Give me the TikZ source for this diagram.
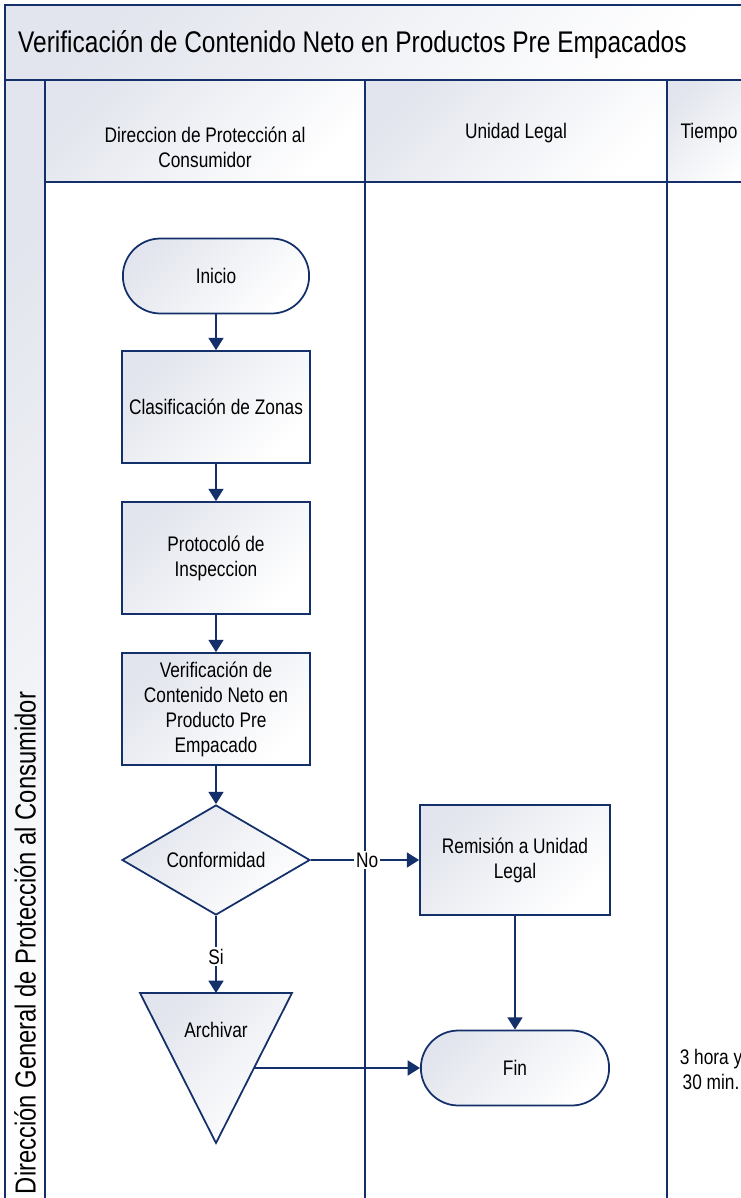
\documentclass[tikz,border=0pt]{standalone}
\usepackage{fontspec}
\setmainfont{Liberation Sans}[FakeStretch=0.82]
\usepackage{tikz}
\usetikzlibrary{shapes.geometric, shapes.misc, arrows.meta, positioning}

\definecolor{lanenavy}{HTML}{14306B}
\definecolor{shadegray}{HTML}{E2E5ED}

\tikzset{
    flowfill/.style={shading=axis, top color=shadegray, bottom color=white, shading angle=45},
    laneline/.style={draw=lanenavy, line width=1.1pt},
    procbox/.style={draw=lanenavy, line width=1pt, flowfill, minimum width=3.76cm, minimum height=2.24cm, align=center, inner sep=2pt},
    termbox/.style={rounded rectangle, draw=lanenavy, line width=1pt, flowfill, minimum width=3.96cm, minimum height=1.5cm},
    decbox/.style={diamond, aspect=1.7, draw=lanenavy, line width=1pt, flowfill, minimum width=3.76cm, minimum height=2.2cm, inner sep=0pt},
    flowline/.style={draw=lanenavy, line width=1.1pt, -{Triangle[length=7pt, width=8.5pt]}},
    lbl/.style={fill=white, inner sep=1pt}
}

\begin{document}
\begin{tikzpicture}[x=0.02cm, y=-0.02cm, font=\fontsize{12}{14.2}\selectfont]
            \useasboundingbox (0,0) rectangle (741,1198);
            \clip (0,0) rectangle (741,1198);

            % Pool frame and bands
            \fill[flowfill] (5,5) rectangle (760,80);
            \fill[flowfill] (5,80) rectangle (45,1220);
            \fill[flowfill] (45,80) rectangle (365,182);
            \fill[flowfill] (365,80) rectangle (667,182);
            \fill[flowfill] (667,80) rectangle (760,182);
            \draw[laneline] (5,5) rectangle (760,1220);
            \draw[laneline] (5,80) -- (760,80);
            \draw[laneline] (45,182) -- (760,182);
            \draw[laneline] (45,80) -- (45,1220);
            \draw[laneline] (365,80) -- (365,1220);
            \draw[laneline] (667,80) -- (667,1220);

            % Titles
            \node[anchor=west, font=\fontsize{17}{20}\selectfont] (title) at (12,45) {Verificación de Contenido Neto en Productos Pre Empacados};
            \node[rotate=90, font=\fontsize{16.5}{20}\selectfont] (pool) at (25,943) {Dirección General de Protección al Consumidor};
            \node[align=center] (lane1) at (205,147) {Direccion de Protección al\\Consumidor};
            \node (lane2) at (516,133) {Unidad Legal};
            \node (lane3) at (709,133) {Tiempo};

            % Steps
            \node[termbox] (inicio) at (216,276) {Inicio};
            \node[procbox] (zonas) at (216,407) {Clasificación de Zonas};
            \node[procbox] (protocolo) at (216,558) {Protocoló de\\Inspeccion};
            \node[procbox] (verif) at (216,709) {Verificación de\\Contenido Neto en\\Producto Pre\\Empacado};
            \node[decbox] (conf) at (216,860) {Conformidad};
            \node[procbox, minimum width=3.8cm, minimum height=2.2cm] (remision) at (515,860) {Remisión a Unidad\\Legal};
            \node[termbox, minimum width=4cm] (fin) at (515,1068) {Fin};

            % Archive triangle
            \draw[draw=lanenavy, line width=1pt, flowfill] (140,993) -- (292,993) -- (216,1143) -- cycle;
            \coordinate (archtop) at (216,993);
            \coordinate (archout) at (254,1068);
            \node (archivar) at (216,1030) {Archivar};

            % Time
            \node[align=center] (tiempo) at (711,1069) {3 hora y\\30 min.};

            % Wiring
            \draw[flowline] (inicio.south) -- (zonas.north);
            \draw[flowline] (zonas.south) -- (protocolo.north);
            \draw[flowline] (protocolo.south) -- (verif.north);
            \draw[flowline] (verif.south) -- (conf.north);
            \draw[flowline] (conf.east) -- node[lbl, pos=0.52] {No} (remision.west);
            \draw[flowline] (conf.south) -- node[lbl, pos=0.53] {Si} (archtop);
            \draw[flowline] (remision.south) -- (fin.north);
            \draw[flowline] (archout) -- (fin.west);
        \end{tikzpicture}
\end{document}
